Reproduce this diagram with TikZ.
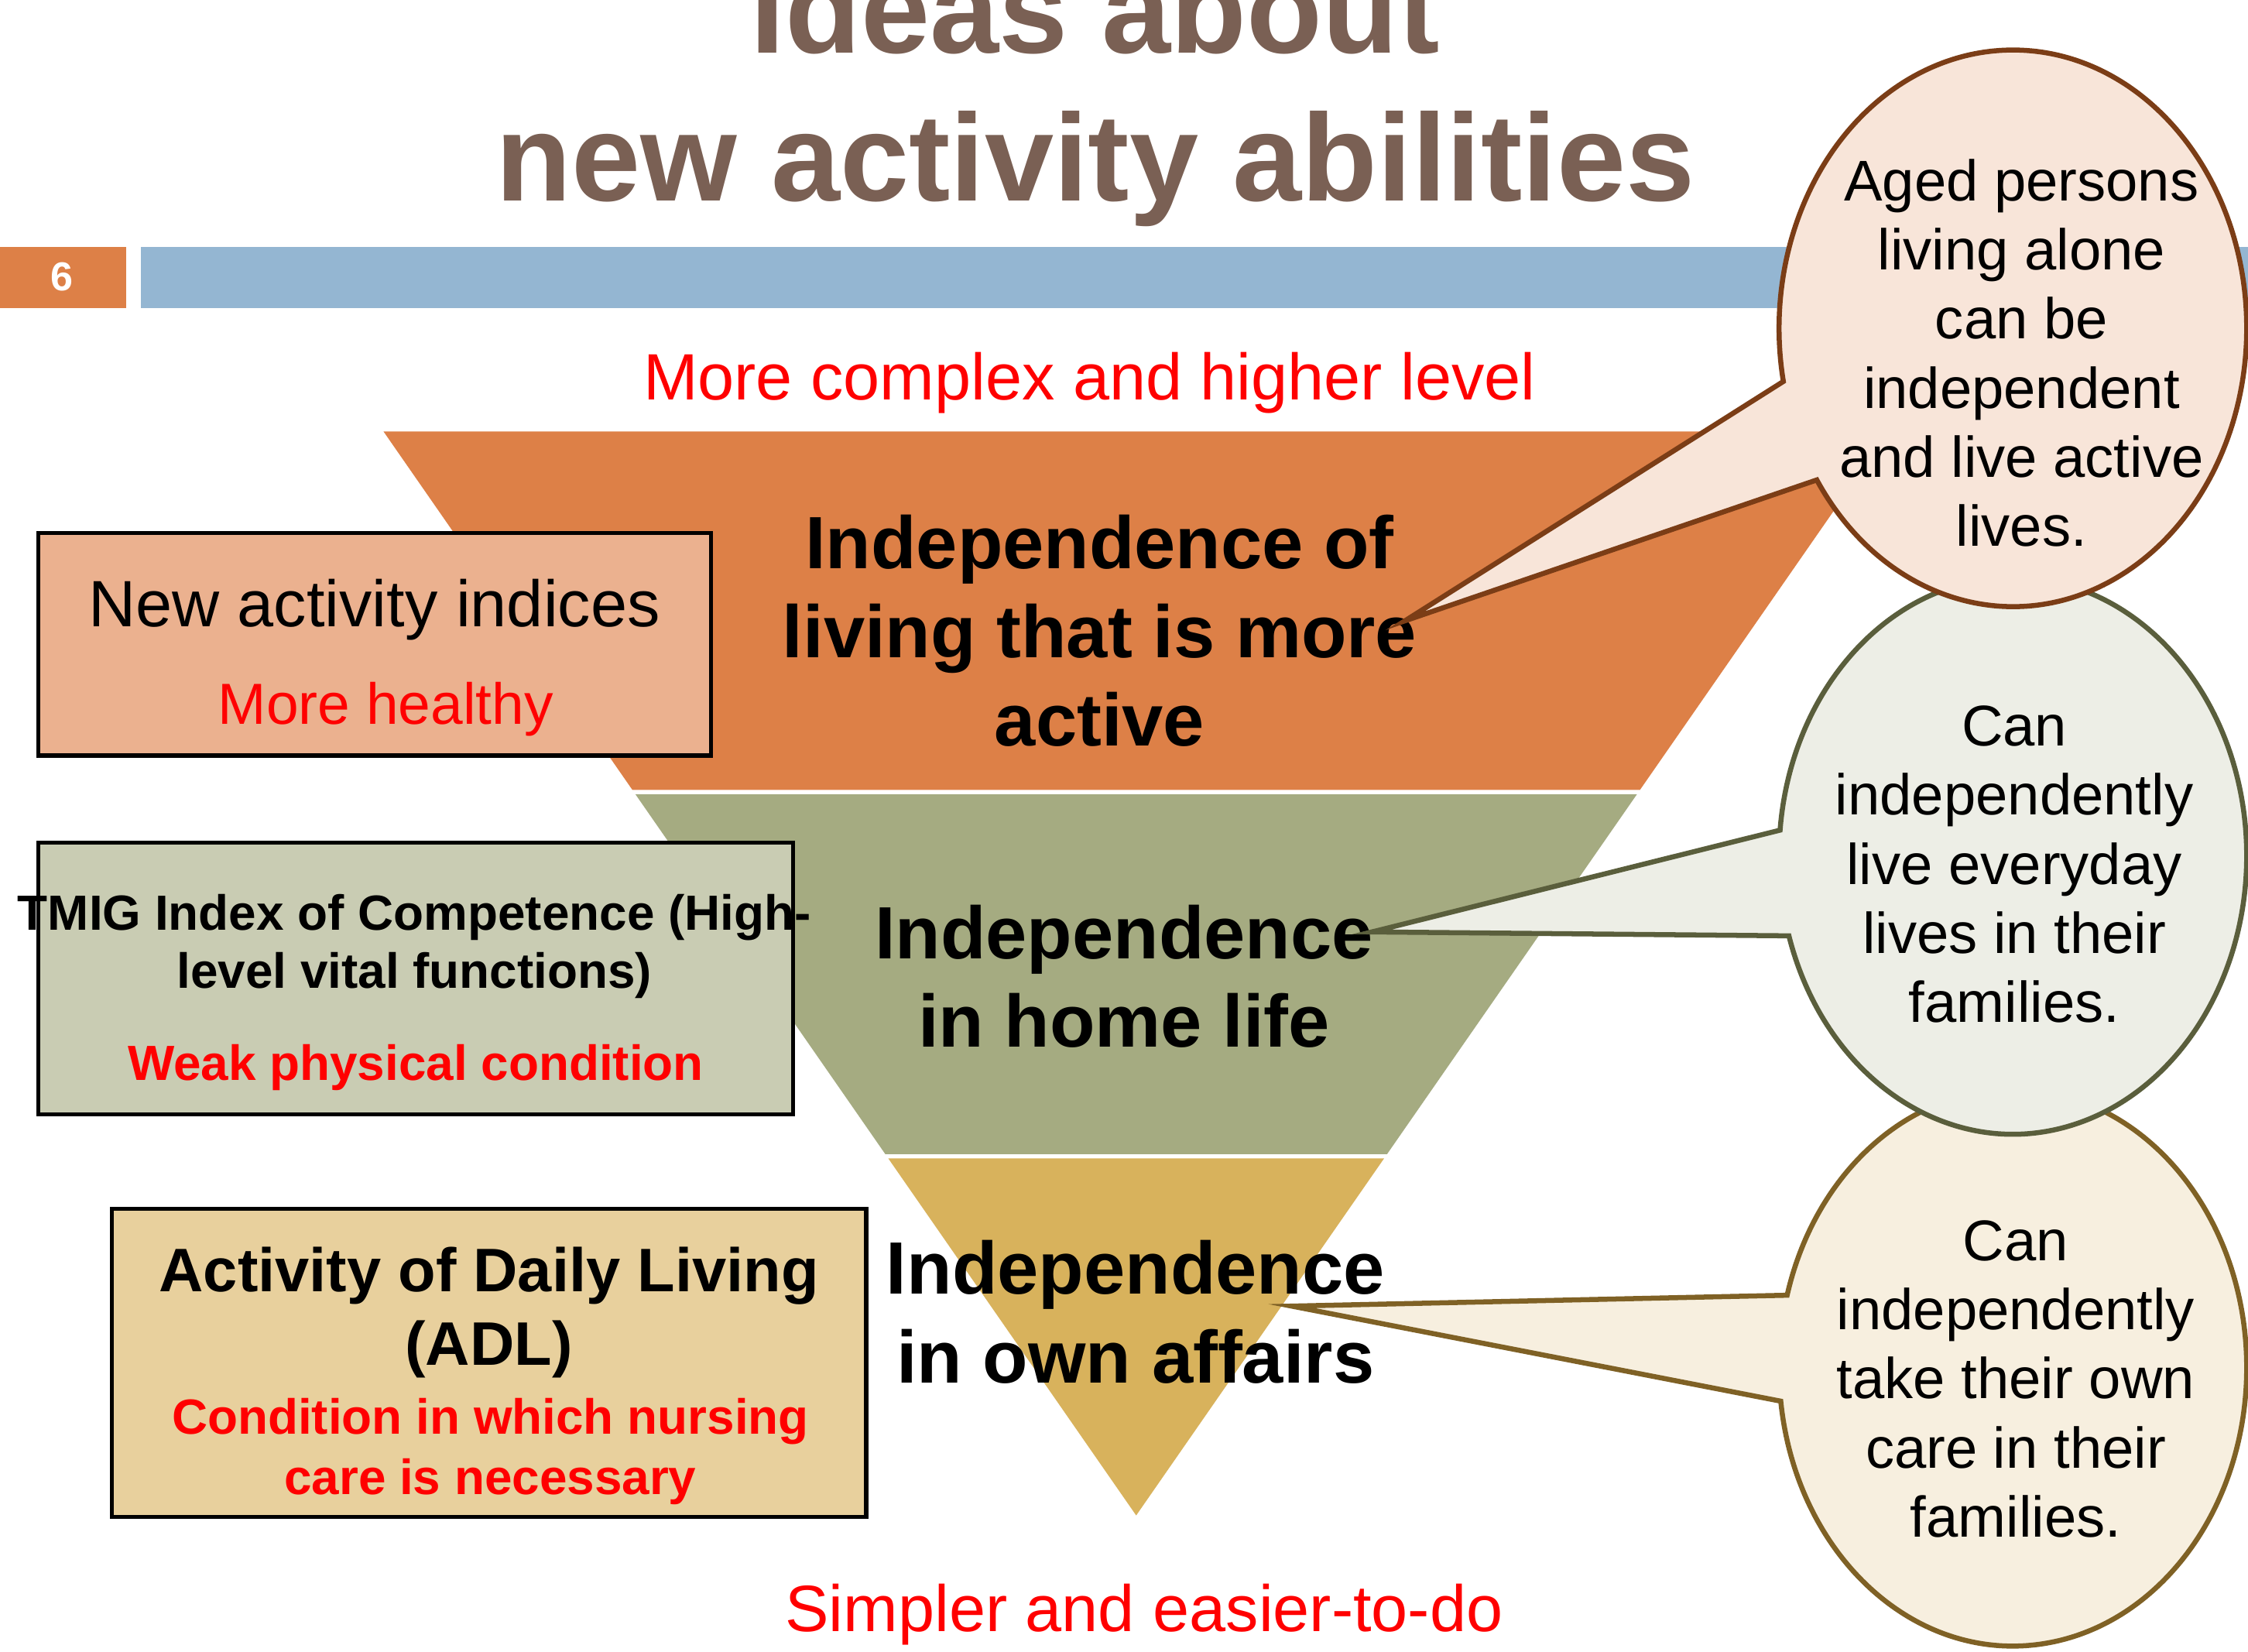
\documentclass[tikz,border=0pt]{standalone}
\usepackage{fontspec}
\setmainfont{Liberation Sans}
\usetikzlibrary{shapes.callouts, math}
\definecolor{titlebrown}{RGB}{122,96,84}
\definecolor{slideorange}{RGB}{221,128,71}
\definecolor{slideblue}{RGB}{148,182,210}
\definecolor{bandorange}{RGB}{221,128,71}
\definecolor{bandolive}{RGB}{165,171,129}
\definecolor{bandgold}{RGB}{216,178,92}
\definecolor{boxorange}{RGB}{235,177,143}
\definecolor{boxolive}{RGB}{201,204,179}
\definecolor{boxgold}{RGB}{232,208,157}
\definecolor{calloutorange}{RGB}{248,229,217}
\definecolor{calloutolive}{RGB}{237,238,230}
\definecolor{calloutgold}{RGB}{247,239,223}
\definecolor{lineorange}{RGB}{123,61,22}
\definecolor{lineolive}{RGB}{90,94,60}
\definecolor{linegold}{RGB}{127,97,37}

\tikzset{
  bandlabel/.style={font=\bfseries\fontsize{14.7}{17.64}\selectfont, align=center, anchor=base},
  boxframe/.style={draw=black, line width=0.8pt, inner sep=0pt},
  boxlabel/.style={align=center, anchor=base},
  redlabel/.style={text=red, align=center, anchor=base},
  bubble/.style={ellipse callout, draw=line#1, fill=callout#1, line width=1pt,
    minimum width=3.26cm, minimum height=3.88cm, inner sep=0pt, callout pointer arc=22},
  bubblelabel/.style={font=\fontsize{11.4}{13.7}\selectfont, align=center, anchor=base},
}

\begin{document}
\begin{tikzpicture}[x=0.01cm, y=-0.01cm]
\tikzmath{
\apex=792.5; % centre line of the pyramid
\tipy=1057;
\k=0.6944;
}
\useasboundingbox (0,0) rectangle (1568,1152);

% slide header (base = last line)
\node[font=\bfseries\fontsize{24.6}{29.3}\selectfont, text=titlebrown, align=center, anchor=base] (title) at (764,140) {Ideas about\\new activity abilities};
\fill[slideorange] (0,172) rectangle (88,215);
\fill[slideblue] (98,172) rectangle (1568,215);
\node[font=\bfseries\fontsize{8}{9}\selectfont, text=white, anchor=base] (slideno) at (43,203) {6};

% pyramid bands
\foreach \top/\bot/\col in {301/551/bandorange, 554/805/bandolive, 808/1057/bandgold}{
  \fill[\col] ({\apex-\k*(\tipy-\top)},\top) -- ({\apex+\k*(\tipy-\top)},\top)
    -- ({\apex+\k*(\tipy-\bot)},\bot) -- ({\apex-\k*(\tipy-\bot)},\bot) -- cycle;
}
\node[bandlabel] (active) at (767,520.5) {Independence of\\living that is more\\active};
\node[bandlabel] (home) at (784,730.5) {Independence\\in home life};
\node[bandlabel] (affairs) at (792,964.5) {Independence\\in own affairs};

\node[redlabel, font=\fontsize{13}{15.6}\selectfont] (complex) at (760,279) {More complex and higher level};
\node[redlabel, font=\fontsize{13}{15.6}\selectfont] (simple) at (798,1138) {Simpler and easier-to-do};

% index boxes
\node[boxframe, fill=boxorange, minimum width=4.69cm, minimum height=1.55cm] (newbox) at (261.5,449.5) {};
\node[boxlabel, font=\fontsize{13}{15.6}\selectfont] (newtitle) at (261,437) {New activity indices};
\node[redlabel, font=\fontsize{11.5}{13.8}\selectfont] (newnote) at (269,505) {More healthy};

\node[boxframe, fill=boxolive, minimum width=5.26cm, minimum height=1.89cm] (tmigbox) at (290,682.5) {};
\node[boxlabel, font=\bfseries\fontsize{9.8}{11.66}\selectfont] (tmigtitle) at (289,689.5) {TMIG Index of Competence (High-\\level vital functions)};
\node[redlabel, font=\bfseries\fontsize{9.8}{11.8}\selectfont] (tmignote) at (290,753.5) {Weak physical condition};

\node[boxframe, fill=boxgold, minimum width=5.26cm, minimum height=2.15cm] (adlbox) at (341,950.5) {};
\node[boxlabel, font=\bfseries\fontsize{12.2}{14.5}\selectfont] (adltitle) at (341,952) {Activity of Daily Living\\(ADL)};
\node[redlabel, font=\bfseries\fontsize{9.8}{11.95}\selectfont] (adlnote) at (342,1042.5) {Condition in which nursing\\care is necessary};

% callouts, lowest first
\coordinate (tipactive) at (980,433);
\coordinate (tiphome) at (957,650);
\coordinate (tipaffairs) at (901,911);
\node[bubble=gold, callout absolute pointer={(tipaffairs)}] (careaffairs) at (1404,954) {};
\node[bubble=olive, callout absolute pointer={(tiphome)}] (carehome) at (1404,597) {};
\node[bubble=orange, callout absolute pointer={(tipactive)}] (careactive) at (1404,229) {};

\node[bubblelabel] (activetext) at (1410,381) {Aged persons\\living alone\\can be\\independent\\and live active\\lives.};
\node[bubblelabel] (hometext) at (1405,713) {Can\\independently\\live everyday\\lives in their\\families.};
\node[bubblelabel] (affairstext) at (1406,1072) {Can\\independently\\take their own\\care in their\\families.};
\end{tikzpicture}
\end{document}
